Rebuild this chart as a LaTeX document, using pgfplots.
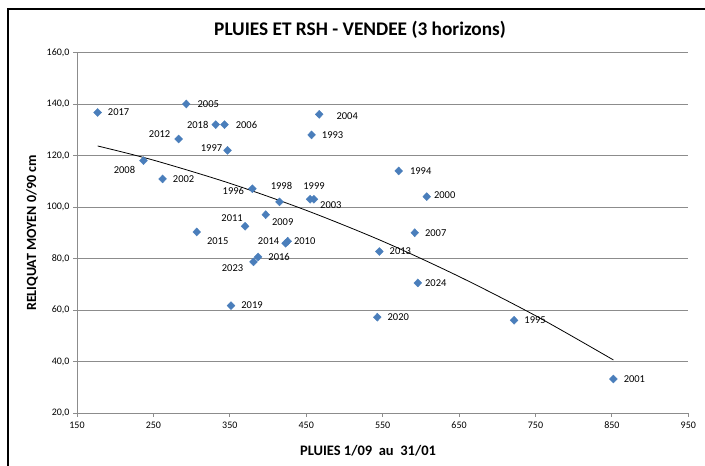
\documentclass[border=0pt]{standalone}
\usepackage{pgfplots}
\pgfplotsset{compat=1.18}
\usepackage{fontspec}
\setmainfont{Carlito}
\definecolor{ptblue}{RGB}{74,126,187}
\definecolor{gridgray}{RGB}{140,140,140}
\pgfplotstableread{
x y label dx dy
177 136.7 2017 21 0
293 140.0 2005 22 0
331.5 132.0 2018 -18 0
343 132.0 2006 22 0
283 126.4 2012 -19 5
347 122.0 1997 -16 2
467 136.0 2004 28 -2
457 128.0 1993 21 0
237 118.0 2008 -19 -9
262 110.9 2002 21 0
379.5 107.1 1996 -19 -2
415 102.0 1998 2 16
455 103.0 1999 4 13
460 103.0 2003 17 -6
370 92.5 2011 -13 8
397 97.0 2009 17 -7
306.7 90.3 2015 21 -9
423 85.9 2014 -17 2
425.8 86.7 2010 17 0
387 80.6 2016 21 0
381 78.7 2023 -21 -6
351.6 61.7 2019 21 0
571 114.0 1994 22 0
607.7 104.0 2000 18 2
592 90.0 2007 21 0
545.7 82.7 2013 21 0
596 70.5 2024 18 0
543 57.2 2020 21 0
722 56.0 1995 21 0
852 33.2 2001 21 0
}\pts
\begin{document}
\begin{tikzpicture}[x=1pt,y=1pt]
\path[use as bounding box] (0,0) rectangle (705,466);
\draw[line width=2pt] (8,-10) -- (8,457) -- (715,457);
\node[font=\bfseries\fontsize{19.3}{22}\selectfont] at (360,436) {PLUIES ET RSH - VENDEE (3 horizons)};
\node[font=\bfseries\fontsize{14.5}{16}\selectfont] at (368,15) {PLUIES 1/09\ \ au\ \ 31/01};
\node[font=\bfseries\fontsize{14}{16}\selectfont, rotate=90] at (32,233) {RELIQUAT MOYEN 0/90 cm};
\begin{axis}[
  at={(77pt,53pt)}, anchor=south west, scale only axis,
  width=611.3pt, height=360.5pt,
  xmin=150, xmax=950, ymin=20, ymax=160,
  xtick={150,250,...,950}, ytick={20,40,...,160},
  axis x line=bottom, axis y line=left,
  axis line style={-, draw=gridgray, line width=0.8pt},
  every outer x axis line/.append style={-},
  every outer y axis line/.append style={-},
  ymajorgrids, grid style={draw=gridgray, line width=0.8pt},
  tick align=outside, major tick length=4pt,
  tick style={draw=gridgray, line width=0.8pt},
  ticklabel style={font=\fontsize{10}{12}\selectfont},
  x tick label style={yshift=-1.5pt},
  /pgf/number format/assume math mode=true,
  y tick label style={/pgf/number format/.cd, fixed, fixed zerofill, precision=1, use comma},
  clip=false
]
\addplot[black, line width=0.8pt, smooth] coordinates {
(177,123.7) (250,118.2) (350,109.2) (450,98.7) (550,86.7) (650,73.0) (750,57.8) (852,40.6)};
\addplot[only marks, mark=diamond*, mark size=4pt,
  mark options={fill=ptblue, draw=ptblue, xscale=1.3},
  nodes near coords, point meta=explicit symbolic,
  visualization depends on={\thisrow{dx} \as \dx},
  visualization depends on={\thisrow{dy} \as \dy},
  every node near coord/.append style={font=\fontsize{10.5}{12}\selectfont, anchor=center, xshift=\dx pt, yshift=\dy pt, text=black}
] table[meta=label] {\pts};
\end{axis}
\end{tikzpicture}
\end{document}
